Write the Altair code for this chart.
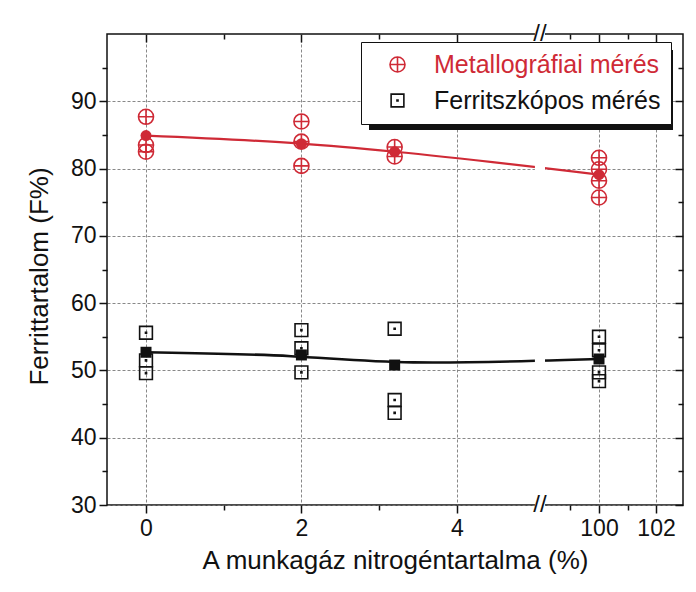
import altair as alt
import pandas as pd

RED = "#cf2a36"
BLK = "#111111"
GRID = "#7a7a7a"
FONT = "Liberation Sans"

SERIES = ["Metallográfiai mérés", "Ferritszkópos mérés"]

# ---- data -----------------------------------------------------------------
x_levels = [0, 2, 3.2, 100]

met_x = [0, 0, 0, 2, 2, 2, 3.2, 3.2, 100, 100, 100, 100]
met_y = [87.7, 83.5, 82.5, 87.0, 84.0, 80.4, 83.2, 81.8, 81.6, 79.9, 78.2, 75.7]
met_mean = [84.9, 83.7, 82.5, 79.1]

fer_x = [0, 0, 0, 2, 2, 2, 3.2, 3.2, 3.2, 100, 100, 100, 100]
fer_y = [55.6, 51.5, 49.6, 56.0, 53.3, 49.7, 56.2, 45.6, 43.7, 55.0, 53.0, 49.7, 48.4]
fer_mean = [52.7, 52.3, 50.8, 51.7]

x_major = [0, 2, 4, 100, 102]
x_minor = [1, 3, 99, 101]
y_major = [30, 40, 50, 60, 70, 80, 90]
y_minor = [35, 45, 55, 65, 75, 85, 95]

# ---- broken x axis ---------------------------------------------------------
RIGHT_ORIGIN = 5.83   # where 100 % sits, in left-segment units
RIGHT_SCALE = 0.367   # compression of the right segment
BREAK_POS = 5.07
X_LO, X_HI = -0.502, 6.911


def pos(v):
    return v if v < 50 else RIGHT_ORIGIN + (v - 100) * RIGHT_SCALE


POS_EXPR = f"datum.x < 50 ? datum.x : {RIGHT_ORIGIN} + (datum.x - 100) * {RIGHT_SCALE}"
LABEL_EXPR = (f"datum.value > {BREAK_POS} ? format(100 + (datum.value - {RIGHT_ORIGIN}) / {RIGHT_SCALE}, '.0f')"
              f" : format(datum.value, '.0f')")

# custom symbols: circle with a plus, square with a dot
PATH_CP = "M-1,0A1,1,0,1,1,1,0A1,1,0,1,1,-1,0ZM-1,0L1,0M0,-1L0,1"
PATH_SQ = ("M-0.85,-0.85L0.85,-0.85L0.85,0.85L-0.85,0.85Z"
           "M-0.07,-0.07L0.07,-0.07L0.07,0.07L-0.07,0.07Z")

pts = pd.DataFrame({
    "series": [SERIES[0]] * len(met_x) + [SERIES[1]] * len(fer_x),
    "x": met_x + fer_x,
    "y": met_y + fer_y,
})
red_mean = pd.DataFrame({"x": x_levels, "y": met_mean})
blk_mean = pd.DataFrame({"x": x_levels, "y": fer_mean})

xs = alt.Scale(domain=[X_LO, X_HI], nice=False, zero=False)
ys = alt.Scale(domain=[30, 100], nice=False, zero=False)

common_tick = dict(tickColor=BLK, tickWidth=1.5, domain=False, title=None)

ax_x_main = alt.Axis(values=[pos(v) for v in x_major], labelExpr=LABEL_EXPR, orient="bottom",
                     grid=True, gridDash=[3, 2], gridColor=GRID, gridWidth=0.9,
                     domain=False, tickSize=8, tickWidth=1.5, tickColor=BLK,
                     labelFont=FONT, labelFontSize=23, labelColor=BLK, labelPadding=4,
                     title="A munkagáz nitrogéntartalma (%)", titleFont=FONT, titleFontSize=26,
                     titleFontWeight="normal", titleColor=BLK, titlePadding=7)
ax_x_minor = alt.Axis(values=[pos(v) for v in x_minor], orient="bottom", labels=False,
                      grid=False, tickSize=5, **common_tick)
ax_x_top = alt.Axis(values=[pos(v) for v in x_major], orient="top", offset=-8, labels=False,
                    grid=False, tickSize=8, **common_tick)
ax_x_top_minor = alt.Axis(values=[pos(v) for v in x_minor], orient="top", offset=-5, labels=False,
                          grid=False, tickSize=5, **common_tick)

ax_y_main = alt.Axis(values=y_major, orient="left", grid=True, gridDash=[3, 2], gridColor=GRID,
                     gridWidth=0.9, domain=False, tickSize=8, tickWidth=1.5, tickColor=BLK,
                     labelFont=FONT, labelFontSize=23, labelColor=BLK, labelPadding=3,
                     title="Ferrittartalom (F%)", titleFont=FONT, titleFontSize=26,
                     titleFontWeight="normal", titleColor=BLK, titlePadding=18, titleY=242)
ax_y_minor = alt.Axis(values=y_minor, orient="left", labels=False, grid=False, tickSize=5, **common_tick)
ax_y_right = alt.Axis(values=y_major, orient="right", offset=-8, labels=False, grid=False,
                      tickSize=8, **common_tick)
ax_y_right_minor = alt.Axis(values=y_minor, orient="right", offset=-5, labels=False, grid=False,
                            tickSize=5, **common_tick)


def X(axis, field="pos"):
    return alt.X(f"{field}:Q", scale=xs, axis=axis)


def Y(axis, field="y"):
    return alt.Y(f"{field}:Q", scale=ys, axis=axis)


legend = alt.Legend(orient="none", legendX=254, legendY=8, title=None,
                    fillColor="white", strokeColor=BLK, padding=10, symbolOffset=14,
                    labelFont=FONT, labelFontSize=25, labelOffset=24, rowPadding=10,
                    labelLimit=400,
                    symbolSize=225, symbolStrokeWidth=1.6, zindex=1,
                    labelColor={"expr": f"datum.label == '{SERIES[0]}' ? '{RED}' : '{BLK}'"})

points = alt.Chart(pts).transform_calculate(pos=POS_EXPR).mark_point(
    filled=False, size=225, strokeWidth=1.6, opacity=1
).encode(
    x=X(ax_x_main), y=Y(ax_y_main),
    color=alt.Color("series:N", scale=alt.Scale(domain=SERIES, range=[RED, BLK]), legend=legend),
    shape=alt.Shape("series:N", scale=alt.Scale(domain=SERIES, range=[PATH_CP, PATH_SQ]), legend=legend),
)

red_line = alt.Chart(red_mean).transform_calculate(pos=POS_EXPR).mark_line(
    color=RED, strokeWidth=2.2, interpolate="monotone"
).encode(x=X(ax_x_minor), y=Y(ax_y_minor))

blk_line = alt.Chart(blk_mean).transform_calculate(pos=POS_EXPR).mark_line(
    color=BLK, strokeWidth=2.6, interpolate="basis"
).encode(x=X(ax_x_top), y=Y(ax_y_right))

# white gaps where the axis is broken
gaps = pd.DataFrame({
    "x1": [BREAK_POS - 0.065] * 4,
    "x2": [BREAK_POS + 0.065] * 4,
    "y1": [78.6, 50.0, 28.8, 98.8],
    "y2": [81.4, 52.8, 31.2, 101.2],
})
gap_rects = alt.Chart(gaps).mark_rect(color="white").encode(
    x=X(ax_x_top_minor, "x1"), x2="x2:Q", y=Y(ax_y_right_minor, "y1"), y2="y2:Q"
)

breaks = pd.DataFrame({"pos": [BREAK_POS, BREAK_POS], "y": [30, 100], "t": ["//", "//"]})
break_marks = alt.Chart(breaks).mark_text(font=FONT, fontSize=24, color=BLK, baseline="middle",
                                          align="center").encode(
    x=X(None), y=Y(None), text="t:N")

red_means = alt.Chart(red_mean).transform_calculate(pos=POS_EXPR).mark_point(
    shape="circle", filled=True, size=121, color=RED, opacity=1
).encode(x=X(None), y=Y(None))

blk_means = alt.Chart(blk_mean).transform_calculate(pos=POS_EXPR).mark_point(
    shape="square", filled=True, size=121, color=BLK, opacity=1
).encode(x=X(None), y=Y(None))

shadow = alt.Chart(pd.DataFrame({"a": [0]})).mark_rect(color=BLK).encode(
    x=alt.value(262), x2=alt.value(566), y=alt.value(16), y2=alt.value(96)
)

chart = alt.layer(
    points, red_line, blk_line, gap_rects, break_marks, red_means, blk_means, shadow
).resolve_axis(x="independent", y="independent").properties(
    width=576, height=471,
    padding={"left": 99, "top": 26, "right": 5, "bottom": 80},
    autosize=alt.AutoSizeParams(type="none"),
    background="white",
).configure_view(stroke=BLK, strokeWidth=1.5)

chart.save("out.html", embed_options={"renderer": "svg", "actions": False})
